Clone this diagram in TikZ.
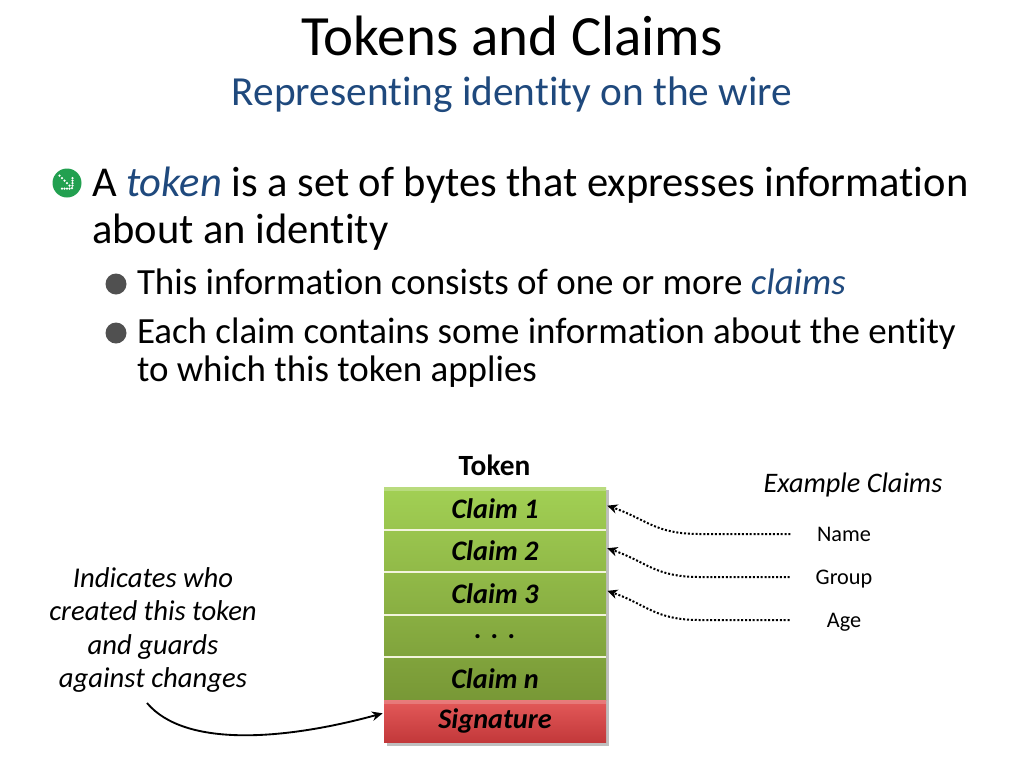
\documentclass[tikz,border=0pt]{standalone}
\usepackage{fontspec}
\setmainfont{Carlito}[Ligatures=NoCommon]
\usetikzlibrary{arrows.meta,backgrounds}
\definecolor{titleblue}{RGB}{31,73,125}
\definecolor{bulletgray}{RGB}{80,80,80}
\definecolor{bulletgreen}{RGB}{34,160,80}
\definecolor{glight}{RGB}{162,208,84}
\definecolor{gdark}{RGB}{120,152,54}
\definecolor{rlight}{RGB}{228,90,90}
\definecolor{rdark}{RGB}{194,56,58}
\definecolor{sepcol}{RGB}{242,244,220}
\begin{document}
\begin{tikzpicture}[x=0.75pt,y=-0.75pt,
  every node/.style={inner sep=0pt, outer sep=0pt},
  ttl/.style={font=\fontsize{42.7}{50}\selectfont, anchor=base},
  sub/.style={font=\fontsize{31}{36}\selectfont, text=titleblue, anchor=base},
  lvlone/.style={font=\fontsize{31.9}{38}\selectfont, anchor=base west},
  lvltwo/.style={font=\fontsize{27.7}{33}\selectfont, anchor=base west},
  rowbox/.style={minimum width=166.5pt, minimum height=31.95pt, font=\fontsize{21.2}{25}\selectfont\bfseries\itshape},
  sepline/.style={draw=sepcol, line width=1.6pt},
  dotarrow/.style={line width=1.5pt, dash pattern=on 1.5pt off 1.4pt, -{Stealth[length=7.5pt,width=7pt,inset=2.2pt]}},
  solidarrow/.style={line width=1.4pt, -{Stealth[length=8pt,width=7pt,inset=2.5pt]}},
  smalltxt/.style={font=\fontsize{16.7}{20}\selectfont, anchor=base},
  notetxt/.style={font=\fontsize{21.5}{25}\selectfont\itshape, anchor=base},
]
\useasboundingbox (0,0) rectangle (1024,768);

% Title
\node[ttl] (title) at (512,55) {Tokens and Claims};
\node[sub] (subtitle) at (512,105) {Representing identity on the wire};

% Level-1 bullet (green icon)
\fill[bulletgreen] (67,183) circle (14.5);
\foreach \d in {-7.5,-5,-2.5,0,2.5,5}
  \fill[white] (67+\d,183+\d) circle (1.25);
\foreach \d in {-5,-2.5,0,2.5}
  {\fill[white] (67+\d,188.5) circle (1.25);
   \fill[white] (72.5,183+\d) circle (1.25);}

\node[lvlone] (l1a) at (92,196) {A \textcolor{titleblue}{\itshape token} is a set of bytes that expresses information};
\node[lvlone] (l1b) at (92,243) {about an identity};

% Level-2 bullets
\fill[bulletgray] (116,284) circle (10.5);
\fill[bulletgray] (116,333) circle (10.5);
\node[lvltwo] (l2a) at (137,294) {This information consists of one or more \textcolor{titleblue}{\itshape claims}};
\node[lvltwo] (l2b) at (137,343) {Each claim contains some information about the entity};
\node[lvltwo] (l2c) at (137,381) {to which this token applies};

% Token stack
\node[font=\fontsize{22}{26}\selectfont\bfseries, anchor=base] (tokenlbl) at (494.5,475) {Token};
\node[rowbox] (c1) at (495,508.3) {Claim 1};
\node[rowbox] (c2) at (495,550.9) {Claim 2};
\node[rowbox] (c3) at (495,593.5) {Claim 3};
\node[rowbox] (cdots) at (495,636.1) {.\,\,.\,\,.};
\node[rowbox] (cn) at (495,678.7) {Claim n};
\node[rowbox] (sig) at (495,721.3) {Signature};
\begin{scope}[on background layer]
  \fill[black!25] ([xshift=2pt,yshift=-2.5pt]c1.north west) rectangle ([xshift=2pt,yshift=-2.5pt]sig.south east);
  \shade[top color=glight, bottom color=gdark] (c1.north west) rectangle (cn.south east);
  \shade[top color=rlight, bottom color=rdark] (sig.north west) rectangle (sig.south east);
  \fill[white, opacity=0.25] (c1.north west) rectangle ([yshift=-3pt]c1.north east);
  \fill[white, opacity=0.2] (sig.north west) rectangle ([yshift=-3pt]sig.north east);
\end{scope}
\draw[sepline] (c1.south west) -- (c1.south east);
\draw[sepline] (c2.south west) -- (c2.south east);
\draw[sepline] (c3.south west) -- (c3.south east);
\draw[sepline] (cdots.south west) -- (cdots.south east);

% Example claims
\node[font=\fontsize{21.2}{25}\selectfont\itshape, anchor=base] (exlbl) at (853,492) {Example Claims};
\node[smalltxt] (name) at (844,541) {Name};
\node[smalltxt] (group) at (844,584) {Group};
\node[smalltxt] (age) at (844,627) {Age};
\draw[dotarrow] ([xshift=-20pt,yshift=5.25pt]name.base west) -- (700,534) .. controls +(-45,0) and +(40,14) .. ([xshift=1pt,yshift=2pt]c1.east);
\draw[dotarrow] ([xshift=-19.5pt,yshift=5.25pt]group.base west) -- (700,577) .. controls +(-45,0) and +(40,14) .. ([xshift=1pt,yshift=2pt]c2.east);
\draw[dotarrow] ([xshift=-28pt,yshift=5.25pt]age.base west) -- (700,620) .. controls +(-45,0) and +(40,14) .. ([xshift=1pt,yshift=2pt]c3.east);

% Note
\node[notetxt] (n1) at (153,587) {Indicates who};
\node[notetxt] (n2) at (153,620) {created this token};
\node[notetxt] (n3) at (153,654) {and guards};
\node[notetxt] (n4) at (153,687) {against changes};
\coordinate (cs) at (147,703);
\draw[solidarrow] (cs) .. controls (185,748) and (285,740) .. ([xshift=-1pt,yshift=6pt]sig.west);
\end{tikzpicture}
\end{document}
